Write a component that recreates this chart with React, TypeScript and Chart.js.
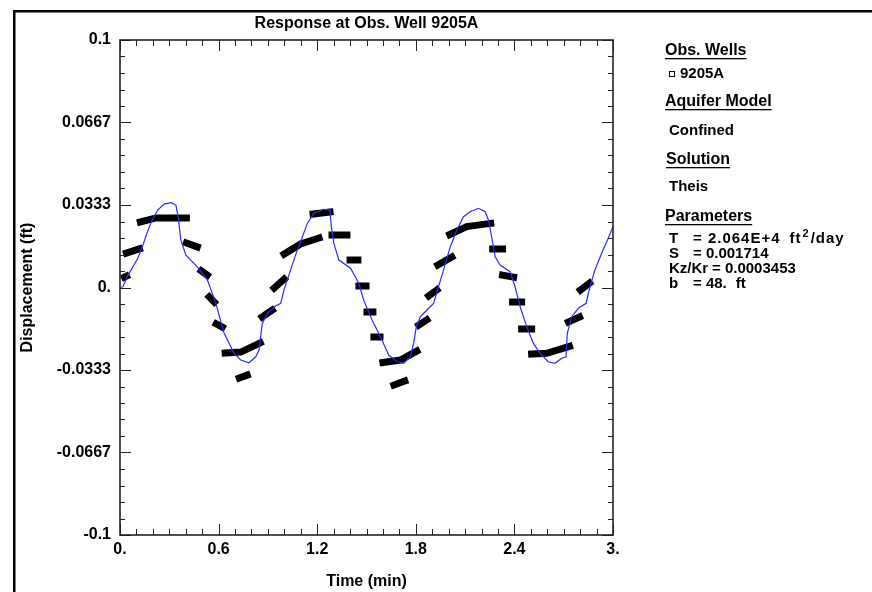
import React, { useEffect, useRef } from 'react';
import { Chart, registerables } from 'chart.js';

Chart.register(...registerables);

// ---------- data ----------
const xTickLabels = ['0.', '0.6', '1.2', '1.8', '2.4', '3.'];
const yTickLabels = ['-0.1', '-0.0667', '-0.0333', '0.', '0.0333', '0.0667', '0.1'];

// Theis solution curve (time in min, displacement in ft)
const theisTime = [0, 0.018, 0.049, 0.079, 0.109, 0.14, 0.16, 0.188, 0.229, 0.269, 0.31, 0.34, 0.354, 0.37, 0.401, 0.472, 0.532, 0.583, 0.633, 0.694, 0.735, 0.785, 0.826, 0.846, 0.866, 0.897, 0.947, 0.978, 0.998, 1.038, 1.079, 1.099, 1.14, 1.18, 1.24, 1.277, 1.286, 1.301, 1.332, 1.403, 1.453, 1.483, 1.534, 1.585, 1.635, 1.686, 1.726, 1.767, 1.787, 1.803, 1.828, 1.878, 1.908, 1.929, 1.969, 2.01, 2.05, 2.09, 2.131, 2.181, 2.222, 2.242, 2.263, 2.283, 2.313, 2.374, 2.404, 2.435, 2.475, 2.515, 2.556, 2.606, 2.647, 2.688, 2.714, 2.722, 2.749, 2.789, 2.836, 2.86, 2.89, 2.931, 2.971, 3.0];
const theisDisp = [0, 0.0003, 0.005, 0.0084, 0.0119, 0.0172, 0.0212, 0.0261, 0.0313, 0.0337, 0.0343, 0.0333, 0.0286, 0.0192, 0.0131, 0.0082, 0.003, -0.0063, -0.0184, -0.0266, -0.0293, -0.0304, -0.028, -0.0253, -0.0145, -0.0104, -0.0075, -0.0064, -0.001, 0.0071, 0.0152, 0.0185, 0.0259, 0.03, 0.0316, 0.0313, 0.0246, 0.0179, 0.0111, 0.0078, 0.0017, -0.0051, -0.0131, -0.0199, -0.0273, -0.03, -0.0306, -0.028, -0.0225, -0.0158, -0.0118, -0.0084, -0.0064, -0.0017, 0.0071, 0.0165, 0.0232, 0.0286, 0.0306, 0.032, 0.0306, 0.0273, 0.0199, 0.0124, 0.0091, 0.0064, 0.0003, -0.0078, -0.0158, -0.0225, -0.0266, -0.03, -0.0306, -0.0286, -0.028, -0.0185, -0.0118, -0.0084, -0.0064, 0.0003, 0.0071, 0.0138, 0.0199, 0.0246];

// Observed data at well 9205A, recorded in short bursts (null ends a burst)
const obsTime = [
  0.027, 0.039, null,
  0.039, 0.118, null,
  0.124, 0.219, 0.404, null,
  0.404, 0.47, null,
  0.495, 0.531, null,
  0.543, 0.574, null,
  0.586, 0.622, null,
  0.64, 0.735, 0.853, null,
  0.726, 0.774, null,
  0.865, 0.926, null,
  0.938, 0.999, null,
  0.999, 1.099, 1.211, null,
  1.175, 1.278, null,
  1.29, 1.381, null,
  1.4, 1.448, null,
  1.454, 1.497, null,
  1.503, 1.539, null,
  1.545, 1.582, null,
  1.6, 1.706, 1.806, null,
  1.667, 1.733, null,
  1.818, 1.867, null,
  1.879, 1.928, null,
  1.934, 2.019, null,
  2.007, 2.11, 2.256, null,
  2.268, 2.328, null,
  2.328, 2.395, null,
  2.389, 2.444, null,
  2.444, 2.505, null,
  2.505, 2.597, 2.735, null,
  2.729, 2.796, null,
  2.802, 2.857,
];
const obsDisp = [
  0.0042, 0.0046, null,
  0.0139, 0.0156, null,
  0.0265, 0.0281, 0.0281, null,
  0.018, 0.0164, null,
  0.0067, 0.005, null,
  -0.0038, -0.0059, null,
  -0.0147, -0.016, null,
  -0.0265, -0.0261, -0.0224, null,
  -0.0366, -0.0354, null,
  -0.0119, -0.0091, null,
  -0.0002, 0.0034, null,
  0.0135, 0.0176, 0.02, null,
  0.0297, 0.0305, null,
  0.0212, 0.0212, null,
  0.0111, 0.0111, null,
  0.0006, 0.0006, null,
  -0.0099, -0.0099, null,
  -0.02, -0.02, null,
  -0.0303, -0.0293, -0.0257, null,
  -0.0394, -0.0378, null,
  -0.0152, -0.0131, null,
  -0.0034, -0.001, null,
  0.0091, 0.0123, null,
  0.0214, 0.0246, 0.0259, null,
  0.0156, 0.0156, null,
  0.005, 0.0042, null,
  -0.0059, -0.0059, null,
  -0.0168, -0.0168, null,
  -0.0269, -0.0266, -0.0238, null,
  -0.0139, -0.0119, null,
  -0.001, 0.0018,
];

const panelHeaders = ['Obs. Wells', 'Aquifer Model', 'Solution', 'Parameters'];
const wellNames = ['9205A'];
const modelName = 'Confined';
const solutionName = 'Theis';
const paramNames = ['T', 'S', 'Kz/Kr', 'b'];
const paramValues = ['= 2.064E+4', '= 0.001714', '= 0.0003453', '= 48.'];
const paramUnits = ['ft', '', '', 'ft'];

const FONT = "'Liberation Sans', Arial, sans-serif";

const framePlugin = {
  id: 'framePlugin',
  afterDraw(chart: any) {
    const { ctx, chartArea: a, scales } = chart;
    ctx.save();
    // outer border (top & left)
    ctx.fillStyle = '#000';
    ctx.fillRect(13, 10, 872, 2.5);
    ctx.fillRect(13, 10, 2.5, 592);

    // plot frame
    ctx.strokeStyle = '#222';
    ctx.lineWidth = 1.6;
    ctx.strokeRect(a.left, a.top, a.right - a.left, a.bottom - a.top);

    // inward ticks
    ctx.lineWidth = 1;
    ctx.strokeStyle = '#222';
    ctx.beginPath();
    scales.x.ticks.forEach((t: any, i: number) => {
      const px = Math.round(scales.x.getPixelForValue(t.value)) + 0.5;
      const len = i % 6 === 0 ? 11 : 6;
      ctx.moveTo(px, a.bottom);
      ctx.lineTo(px, a.bottom - len);
      ctx.moveTo(px, a.top);
      ctx.lineTo(px, a.top + len);
    });
    scales.y.ticks.forEach((t: any, i: number) => {
      const py = Math.round(scales.y.getPixelForValue(t.value)) + 0.5;
      const len = i % 5 === 0 ? 11 : 5;
      ctx.moveTo(a.left, py);
      ctx.lineTo(a.left + len, py);
      ctx.moveTo(a.right, py);
      ctx.lineTo(a.right - len, py);
    });
    ctx.stroke();

    // title
    ctx.fillStyle = '#000';
    ctx.font = `bold 16px ${FONT}`;
    ctx.textAlign = 'center';
    ctx.textBaseline = 'alphabetic';
    ctx.fillText('Response at Obs. Well 9205A', (a.left + a.right) / 2, 28);

    // right panel
    ctx.textAlign = 'left';
    const header = (text: string, x: number, y: number) => {
      ctx.font = `bold 16px ${FONT}`;
      ctx.fillText(text, x, y);
      const w = ctx.measureText(text).width;
      ctx.fillRect(x, y + 3, w, 1.3);
    };
    const entry = `bold 15px ${FONT}`;
    header(panelHeaders[0], 665, 55);
    ctx.font = entry;
    ctx.lineWidth = 1;
    ctx.strokeStyle = '#000';
    ctx.strokeRect(669.5, 71.5, 5, 5);
    ctx.fillText(wellNames[0], 680, 78);
    header(panelHeaders[1], 665, 106);
    ctx.font = entry;
    ctx.fillText(modelName, 669, 135);
    header(panelHeaders[2], 666, 164);
    ctx.font = entry;
    ctx.fillText(solutionName, 669, 191);
    header(panelHeaders[3], 665, 221);

    const rows = [243, 258, 273, 288];
    const valX = [693, 693, 712, 693];
    paramNames.forEach((n, i) => {
      ctx.font = entry;
      (ctx as any).letterSpacing = '0px';
      ctx.fillText(n, 669, rows[i]);
      if (i === 0) (ctx as any).letterSpacing = '1px';
      ctx.fillText(paramValues[i], valX[i], rows[i]);
      let x = valX[i] + ctx.measureText(paramValues[i]).width;
      if (paramUnits[i]) {
        x += i === 0 ? 9 : 9;
        ctx.fillText(paramUnits[i], x, rows[i]);
        x += ctx.measureText(paramUnits[i]).width;
      }
      if (i === 0) {
        ctx.font = `bold 11px ${FONT}`;
        ctx.fillText('2', x + 1, rows[i] - 6);
        x += ctx.measureText('2').width + 2;
        ctx.font = entry;
        ctx.fillText('/day', x, rows[i]);
      }
      (ctx as any).letterSpacing = '0px';
    });
    ctx.restore();
  },
};

export default function App() {
  const ref = useRef<HTMLCanvasElement>(null);
  useEffect(() => {
    const theisData = theisTime.map((t, i) => ({ x: t, y: theisDisp[i] }));
    const obsData = obsTime.map((t, i) => ({ x: t === null ? NaN : t, y: obsDisp[i] }));
    const chart = new Chart(ref.current!, {
      type: 'line',
      data: {
        datasets: [
          {
            label: 'Theis',
            data: theisData,
            borderColor: '#2b2bff',
            borderWidth: 1.2,
            pointRadius: 0,
            tension: 0,
            fill: false,
          },
          {
            label: '9205A',
            data: obsData,
            borderColor: '#000',
            borderWidth: 7,
            borderCapStyle: 'square',
            borderJoinStyle: 'miter',
            pointRadius: 0,
            spanGaps: false,
            fill: false,
          },
        ],
      },
      plugins: [framePlugin],
      options: {
        animation: false,
        responsive: false,
        devicePixelRatio: 1,
        layout: { padding: { left: 0, top: 40, right: 259, bottom: 0 } },
        plugins: { legend: { display: false }, tooltip: { enabled: false }, title: { display: false } },
        scales: {
          x: {
            type: 'linear',
            min: 0,
            max: 3,
            grid: { display: false, drawTicks: false },
            border: { display: false },
            afterBuildTicks: (s: any) => {
              const t = [];
              for (let i = 0; i <= 30; i++) t.push({ value: i / 10 });
              s.ticks = t;
            },
            afterFit: (s: any) => { s.height = 57; },
            ticks: {
              autoSkip: false,
              maxRotation: 0,
              padding: 5,
              color: '#000',
              font: { family: FONT, size: 16, weight: 'bold' },
              callback: (_v: any, i: number) => (i % 6 === 0 ? xTickLabels[i / 6] : ''),
            },
            title: {
              display: true,
              text: 'Time (min)',
              color: '#000',
              font: { family: FONT, size: 16, weight: 'bold' },
              padding: { top: 0, bottom: 1 },
            },
          },
          y: {
            type: 'linear',
            min: -0.1,
            max: 0.1,
            grid: { display: false, drawTicks: false },
            border: { display: false },
            afterBuildTicks: (s: any) => {
              const t = [];
              for (let i = -15; i <= 15; i++) t.push({ value: i / 150 });
              s.ticks = t;
            },
            afterFit: (s: any) => { s.width = 120; },
            ticks: {
              autoSkip: false,
              padding: 9,
              color: '#000',
              font: { family: FONT, size: 16, weight: 'bold' },
              callback: (_v: any, i: number) => (i % 5 === 0 ? yTickLabels[i / 5] : ''),
            },
            title: {
              display: true,
              text: 'Displacement (ft)',
              color: '#000',
              font: { family: FONT, size: 16, weight: 'bold' },
              padding: { top: 18, bottom: 0 },
            },
          },
        },
      },
    } as any);
    return () => chart.destroy();
  }, []);
  return (
    <div style={{ position: 'fixed', left: 0, top: 0, width: 872, height: 592, background: '#fff' }}>
      <canvas ref={ref} width={872} height={592} style={{ width: 872, height: 592 }} />
    </div>
  );
}
